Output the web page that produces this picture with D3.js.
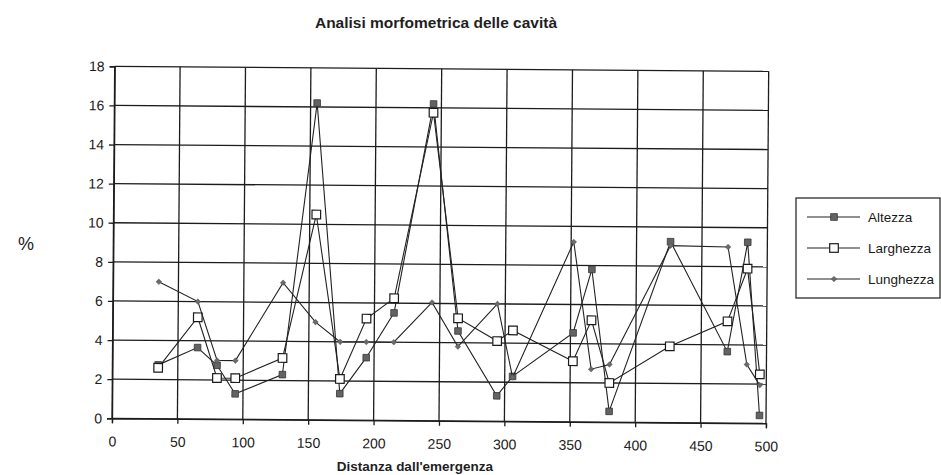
<!DOCTYPE html>
<html>
<head>
<meta charset="utf-8">
<script src="https://cdn.jsdelivr.net/npm/d3@7/dist/d3.min.js"></script>
<style>
  html, body { margin: 0; padding: 0; background: #fff; }
  svg { display: block; font-family: "Liberation Sans", Arial, Helvetica, sans-serif; }
</style>
</head>
<body>
<svg id="chart" width="941" height="475"></svg>
<script>
// Distance from the cave entrance (m)
const distanza = [35, 65, 80, 94, 130, 155, 174, 194, 215, 244, 264, 294, 306, 352, 366, 380, 426, 470, 485, 495];
// Percent values per section
const altezza   = [2.75, 3.65, 2.75, 1.3, 2.3, 16.2, 1.35, 3.2, 5.5, 16.2, 4.6, 1.3, 2.3, 4.55, 7.8, 0.55, 9.25, 3.65, 9.25, 0.4];
const larghezza = [2.6, 5.2, 2.1, 2.1, 3.15, 10.5, 2.1, 5.2, 6.25, 15.75, 5.25, 4.1, 4.65, 3.1, 5.2, 2.0, 3.9, 5.2, 7.9, 2.5];
const lunghezza = [7.0, 6.0, 3.0, 3.0, 7.0, 5.0, 4.0, 4.0, 4.0, 6.05, 3.8, 6.0, 2.25, 9.2, 2.7, 2.95, 9.05, 9.0, 3.0, 1.95];
const serieNomi = ["Altezza", "Larghezza", "Lunghezza"];
const xTicks = [0, 50, 100, 150, 200, 250, 300, 350, 400, 450, 500];
const yTicks = [0, 2, 4, 6, 8, 10, 12, 14, 16, 18];

const svg = d3.select("#chart");
const ink = "#1c1c1c";

const W = 654, H = 352;
const left = 112, bottom = 418.3;

const x = d3.scaleLinear().domain([0, 500]).range([0, W]);
const y = d3.scaleLinear().domain([0, 18]).range([H, 0]);

// plot area, slightly skewed like the printed page
const plot = svg.append("g")
  .attr("transform", `rotate(0.44, ${left}, ${bottom}) translate(${left}, ${bottom - H})`);

// grid
plot.append("g").selectAll("line").data(yTicks).join("line")
  .attr("x1", 0).attr("x2", W)
  .attr("y1", d => y(d)).attr("y2", d => y(d))
  .attr("stroke", ink).attr("stroke-width", 1.3);
plot.append("g").selectAll("line").data(xTicks).join("line")
  .attr("y1", 0).attr("y2", H)
  .attr("x1", d => x(d)).attr("x2", d => x(d))
  .attr("stroke", ink).attr("stroke-width", 1.3);

// axes
const yAxis = plot.append("g")
  .call(d3.axisLeft(y).tickValues(yTicks).tickSize(5).tickPadding(5));
const xAxis = plot.append("g").attr("transform", `translate(0, ${H})`)
  .call(d3.axisBottom(x).tickValues(xTicks).tickSize(5).tickPadding(13));
[yAxis, xAxis].forEach(a => {
  a.select(".domain").attr("stroke", ink).attr("stroke-width", 1.3);
  a.selectAll(".tick line").attr("stroke", ink).attr("stroke-width", 1.3);
  a.selectAll(".tick text").attr("fill", "#1a1a1a").style("font-size", "14px")
    .style("font-family", "'Liberation Sans', Arial, Helvetica, sans-serif");
});

// series
const serie = [
  { nome: serieNomi[0], valori: altezza,   marker: "pieno" },
  { nome: serieNomi[1], valori: larghezza, marker: "vuoto" },
  { nome: serieNomi[2], valori: lunghezza, marker: "rombo" }
];

const linea = d3.line().x(d => x(d[0])).y(d => y(d[1]));

function disegnaMarker(sel, tipo) {
  if (tipo === "pieno") {
    sel.append("rect").attr("x", -3.3).attr("y", -3.3).attr("width", 6.6).attr("height", 6.6)
      .attr("fill", "#636363").attr("stroke", "#363636").attr("stroke-width", 0.8);
  } else if (tipo === "vuoto") {
    sel.append("rect").attr("x", -4.3).attr("y", -4.3).attr("width", 8.6).attr("height", 8.6)
      .attr("fill", "#fff").attr("stroke", "#1a1a1a").attr("stroke-width", 1.2);
  } else {
    sel.append("path").attr("d", "M0,-2.8L2.8,0L0,2.8L-2.8,0Z")
      .attr("fill", "#6a6a6a").attr("stroke", "#505050").attr("stroke-width", 0.5);
  }
}

serie.forEach(s => {
  const punti = distanza.map((d, i) => [d, s.valori[i]]);
  const g = plot.append("g");
  g.append("path").datum(punti).attr("d", linea)
    .attr("fill", "none").attr("stroke", "#222").attr("stroke-width", 1.1);
  g.selectAll("g.m").data(punti).join("g").attr("class", "m")
    .attr("transform", d => `translate(${x(d[0])}, ${y(d[1])})`)
    .each(function () { disegnaMarker(d3.select(this), s.marker); });
});

// titles
svg.append("text").attr("x", 436).attr("y", 28).attr("text-anchor", "middle")
  .style("font-size", "15.5px").style("font-weight", "bold").attr("fill", "#1f1f1f")
  .text("Analisi morfometrica delle cavità");
svg.append("text").attr("x", 415).attr("y", 471).attr("text-anchor", "middle")
  .style("font-size", "13.5px").style("font-weight", "bold").attr("fill", "#1f1f1f")
  .text("Distanza dall'emergenza");
svg.append("text").attr("x", 26).attr("y", 249.5).attr("text-anchor", "middle")
  .style("font-size", "18px").attr("fill", "#222").text("%");

// legend
const leg = svg.append("g");
leg.append("rect").attr("x", 796).attr("y", 198).attr("width", 144).attr("height", 100)
  .attr("fill", "#fff").attr("stroke", ink).attr("stroke-width", 1.2);
const legY = [217, 248, 279];
serie.forEach((s, i) => {
  const r = leg.append("g").attr("transform", `translate(0, ${legY[i]})`);
  r.append("line").attr("x1", 807).attr("x2", 860).attr("y1", 0).attr("y2", 0)
    .attr("stroke", "#222").attr("stroke-width", 1.1);
  disegnaMarker(r.append("g").attr("transform", "translate(834, 0)"), s.marker);
  r.append("text").attr("x", 868).attr("y", 0).attr("dy", "0.35em")
    .style("font-size", "13.5px").attr("fill", "#1a1a1a").text(s.nome);
});
</script>
</body>
</html>
